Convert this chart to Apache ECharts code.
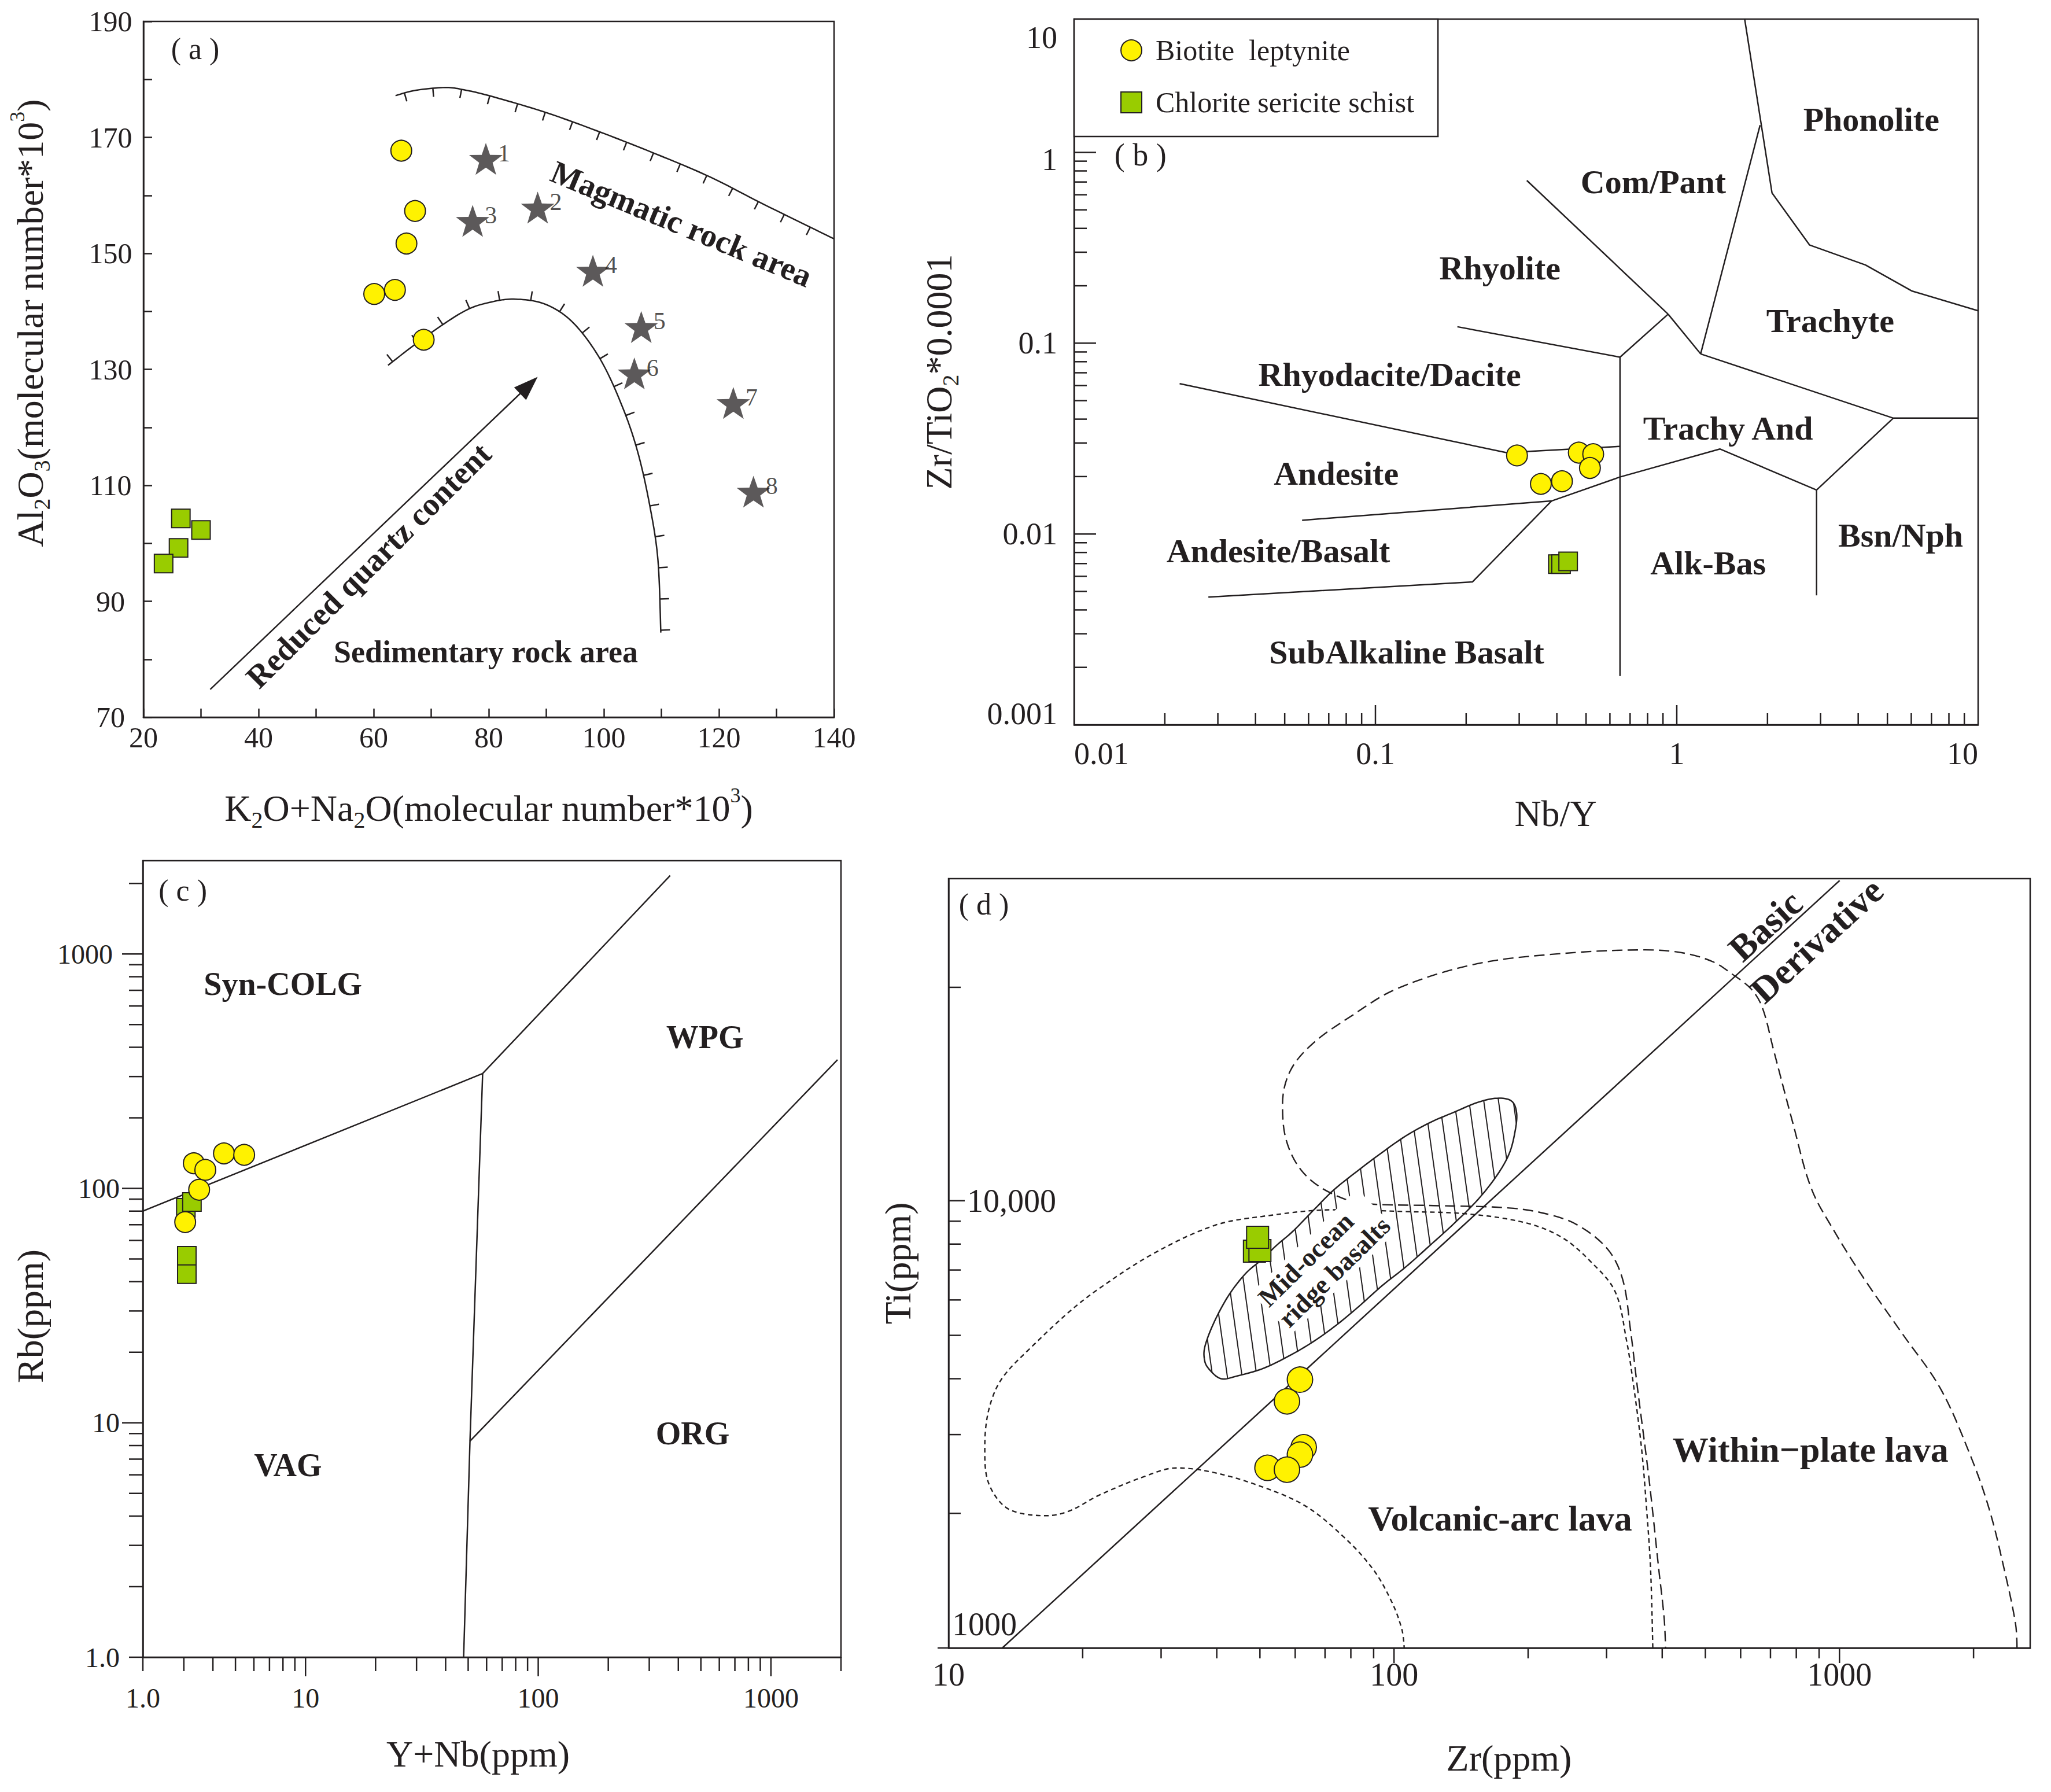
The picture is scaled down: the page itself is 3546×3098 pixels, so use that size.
<!DOCTYPE html>
<html><head><meta charset="utf-8">
<script src="https://cdn.jsdelivr.net/npm/echarts@6/dist/echarts.min.js"></script>
<style>html,body{margin:0;padding:0;background:#fff}#c{width:3546px;height:3098px}</style>
</head><body><div id="c"></div>
<script>
// ====================== DATA ======================
// ---- (a) Al2O3 vs K2O+Na2O ----
const aCircles = [[64.8,167.7],[67.2,157.3],[65.7,151.7],[60.1,143.0],[63.7,143.7],[68.7,135.1]];
const aSquares = [[26.5,104.3],[30.0,102.3],[26.1,99.2],[23.5,96.5]];
const aStars = [[79.5,166.3],[88.5,157.9],[77.2,155.6],[98.1,147.0],[106.5,137.3],[105.3,129.3],[122.5,124.2],[126.0,108.9]];
const aStarNames = ['1','2','3','4','5','6','7','8'];
const aMagmaticCurve = [[63.8,177.2],[67.2,178.1],[72.4,178.6],[75.7,178.2],[80.4,177.1],[89.9,174.3],[99.4,170.9],[108.9,167.2],[118.4,163.2],[127.9,158.4],[140,152.5]];
const aSedimentaryCurve = [[62.5,130.7],[68.7,135.4],[75.7,140.0],[80.4,141.6],[84.7,142.1],[89.9,141.2],[94.7,138.0],[99.4,131.7],[103.2,123.6],[105.9,115.7],[108.0,106.4],[109.4,97.1],[109.9,84.6]];
const aArrow = [[31.6,74.8],[88.5,128.7]];

// ---- (b) Zr/TiO2 vs Nb/Y ----
const bCircles = [[0.295,0.0258],[0.473,0.0267],[0.528,0.0262],[0.515,0.0222],[0.354,0.0183],[0.416,0.0189]];
const bSquares = [[0.403,0.00695],[0.413,0.00695],[0.436,0.00719]];
const bBoundaries = [
  [[0.318,0.713],[0.936,0.142]],
  [[0.936,0.142],[0.648,0.0845]],
  [[0.187,0.122],[0.648,0.0845]],
  [[0.648,0.0845],[0.648,0.0018]],
  [[0.936,0.142],[1.20,0.0879]],
  [[1.20,0.0879],[1.89,1.39]],
  [[1.68,5.0],[2.07,0.614],[2.76,0.327],[4.23,0.257],[6.02,0.188],[10,0.148]],
  [[1.20,0.0879],[5.23,0.0405],[10,0.0405]],
  [[5.23,0.0405],[2.91,0.0170],[2.91,0.00477]],
  [[2.91,0.0170],[1.39,0.0279],[0.648,0.0199],[0.384,0.0149],[0.0571,0.0118]],
  [[0.384,0.0149],[0.210,0.00561],[0.0279,0.00467]],
  [[0.0224,0.0614],[0.272,0.0267],[0.648,0.0288]]
];
const bXMajor = [0.1,1];
const bXMinor = [0.02,0.03,0.04,0.05,0.06,0.07,0.08,0.09,0.2,0.3,0.4,0.5,0.6,0.7,0.8,0.9,2,3,4,5,6,7,8,9];
const bYMajor = [0.01,0.1,1];
const bYMinor = [0.002,0.003,0.004,0.005,0.006,0.007,0.008,0.009,0.02,0.03,0.04,0.05,0.06,0.07,0.08,0.09,0.2,0.3,0.4,0.5,0.6,0.7,0.8,0.9,2,3,4];
const bXLabelVals = [0.01,0.1,1,10];
const bXLabelText = ['0.01','0.1','1','10'];
const bYLabelVals = [0.001,0.01,0.1,1,4];
const bYLabelText = ['0.001','0.01','0.1','1','10'];

// ---- (c) Rb vs Y+Nb ----
const cCircles = [[3.31,128],[3.71,120],[4.46,141],[5.45,139],[3.49,98.7],[3.04,71.8]];
const cSquares = [[3.06,82.7],[3.25,87.5],[3.09,51.6],[3.09,43.1]];
const cBoundaries = [
  [[2,80],[57.7,309]],
  [[57.7,309],[369,2162]],
  [[57.7,309],[50.9,8.35],[47.8,1]],
  [[50.9,8.35],[1932,354]]
];
const cXMajor = [10,100,1000];
const cXMinor = [2,3,4,5,6,7,8,9,20,30,40,50,60,70,80,90,200,300,400,500,600,700,800,900,2000];
const cYMajor = [10,100,1000];
const cYMinor = [1,2,3,4,5,6,7,8,9,20,30,40,50,60,70,80,90,200,300,400,500,600,700,800,900,2000];
const cXLabelVals = [2,10,100,1000];
const cXLabelText = ['1.0','10','100','1000'];
const cYLabelVals = [1,10,100,1000];
const cYLabelText = ['1.0','10','100','1000'];

// ---- (d) Ti vs Zr ----
const dCircles = [[61.5,3981],[57.5,3560],[62.7,2810],[61.5,2706],[52.0,2528],[57.5,2504]];
const dSquares = [[48.6,7713],[50.0,7737],[49.4,8285]];
const dBasicLine = [[13.2,1000],[1001,52000]];
const dWithinPlate = [[2504,1000],[2485,1132],[2344,1498],[2168,2046],[1964,2706],[1683,3812],[1384,5043],[1138,6673],[973,8557],[865,10640],[785,14980],[711,21770],[671,27060],[634,29720],[574,32130],[521,34190],[446,35810],[366,36380],[220.5,35480],[149,33650],[101,29720],[80,25840],[65.7,22460],[58.5,19520],[56.2,16450],[57.3,13650],[62,11680],[71.1,10480],[86.4,9845],[122.7,9754],[181.4,9634],[220.5,9340],[257.8,8830],[301.5,7798],[326,6673],[339,5203],[352,3812],[373.6,2390],[393,1498],[404,1168],[407,1000]];
const dVolcanicArc = [[381,1000],[376.7,1498],[369,2046],[359.5,2792],[345.6,3812],[332.4,4889],[313.4,6271],[276.6,7304],[238.5,8271],[198.5,8913],[146.9,9340],[106.6,9456],[73.3,9544],[50.6,9224],[39.5,8803],[28.9,7628],[21.8,6368],[18.7,5657],[15.3,4694],[13.3,4056],[12.5,3593],[12.1,3065],[12.06,2757],[12.15,2442],[12.8,2170],[13.9,2026],[16.6,1976],[18.7,2026],[21.8,2197],[27.8,2427],[32.5,2527],[39.5,2466],[50.0,2302],[63.2,2078],[76.8,1778],[89.8,1498],[99.0,1263],[104.2,1098],[105.4,1000]];
const dMorb = [[37.5,4443],[37.7,4757],[39.5,5363],[42.5,6134],[46.4,6870],[50.6,7400],[54.5,7950],[59.4,8560],[66.4,9590],[73.3,10580],[83.0,11680],[93.9,12810],[106.4,13970],[120.5,14960],[136.5,15780],[154.3,16600],[170.3,16950],[183.5,16710],[188.5,15690],[186.8,14220],[181.3,12730],[170.3,11400],[154.3,10060],[136.5,8900],[120.5,7950],[106.4,7120],[93.9,6450],[83.0,5780],[73.3,5220],[64.8,4790],[57.2,4460],[50.6,4210],[44.6,4060],[40.9,4000],[38.3,4220]];
const dXMajor = [100,1000];
const dXMinor = [20,30,40,50,60,70,80,90,200,300,400,500,600,700,800,900,2000];
const dYMajor = [10000];
const dYMinor = [2000,3000,4000,5000,6000,7000,8000,9000,30000];
const dYOuter = [1000];
const dXLabelVals = [10,100,1000];
const dXLabelText = ['10','100','1000'];
const dYLabelVals = [10000,1000];
const dYLabelText = ['10,000','1000'];

// ====================== STYLE / HELPERS ======================
const INK = '#231f20';
const SERIF = '"Liberation Serif","Times New Roman",serif';
const YEL = '#fff200';
const GRN = '#99cc00';
const NAME1 = 'Biotite  leptynite';
const NAME2 = 'Chlorite sericite schist';
const STAR = 'path://M0,-50 L11.76,-16.18 L47.55,-15.45 L19.02,6.18 L29.39,40.45 L0,20 L-29.39,40.45 L-19.02,6.18 L-47.55,-15.45 L-11.76,-16.18 Z';

function catmull(pts, closed, seg){
  const out=[]; const n=pts.length;
  const g=i=> closed ? pts[(i+n)%n] : pts[Math.max(0,Math.min(n-1,i))];
  const last = closed ? n : n-1;
  for(let i=0;i<last;i++){
    const p0=g(i-1),p1=g(i),p2=g(i+1),p3=g(i+2);
    for(let t=0;t<seg;t++){
      const s=t/seg,s2=s*s,s3=s2*s;
      const f=k=>0.5*((2*p1[k])+(-p0[k]+p2[k])*s+(2*p0[k]-5*p1[k]+4*p2[k]-p3[k])*s2+(-p0[k]+3*p1[k]-3*p2[k]+p3[k])*s3);
      out.push([f(0),f(1)]);
    }
  }
  if(!closed) out.push(pts[n-1]);
  return out;
}

function tickedCurve(ax, curve, side, spacing, len, offset){
  return {type:'custom', xAxisIndex:ax, yAxisIndex:ax, silent:true, clip:false, z:3, data:[curve[0]],
    renderItem:(params, api)=>{
      const pts = catmull(curve.map(p=>api.coord(p)), false, 12);
      const ch=[{type:'polyline', shape:{points:pts}, style:{stroke:INK, lineWidth:2.5, fill:null}}];
      let acc=0, next=offset;
      for(let i=1;i<pts.length;i++){
        const a=pts[i-1], b=pts[i]; const dx=b[0]-a[0], dy=b[1]-a[1]; const L=Math.hypot(dx,dy);
        if(L===0) continue;
        while(next<=acc+L){
          const t=(next-acc)/L; const x=a[0]+dx*t, y=a[1]+dy*t;
          const nx=side*(-dy/L), ny=side*(dx/L);
          ch.push({type:'line', shape:{x1:x,y1:y,x2:x+nx*len,y2:y+ny*len}, style:{stroke:INK,lineWidth:2.5}});
          next+=spacing;
        }
        acc+=L;
      }
      return {type:'group', children:ch};
    }};
}

function arrowSeries(ax, seg){
  return {type:'custom', xAxisIndex:ax, yAxisIndex:ax, silent:true, clip:false, z:3, data:[seg[0]],
    renderItem:(params, api)=>{
      const p0=api.coord(seg[0]), p1=api.coord(seg[1]);
      const dx=p1[0]-p0[0], dy=p1[1]-p0[1], L=Math.hypot(dx,dy), ux=dx/L, uy=dy/L;
      const hl=42, hw=15;
      const bx=p1[0]-ux*hl, by=p1[1]-uy*hl;
      return {type:'group', children:[
        {type:'line', shape:{x1:p0[0],y1:p0[1],x2:bx+ux*4,y2:by+uy*4}, style:{stroke:INK,lineWidth:2.5}},
        {type:'polygon', shape:{points:[[p1[0],p1[1]],[bx-uy*hw,by+ux*hw],[bx+uy*hw,by-ux*hw]]}, style:{fill:INK}}
      ]};
    }};
}

function decorSeries(ax, spec){
  return {type:'custom', xAxisIndex:ax, yAxisIndex:ax, silent:true, clip:false, z:4, data:[[spec.x0, spec.y0]],
    renderItem:(params, api)=>{
      const ch=[];
      const seg=(a,b)=>ch.push({type:'line', shape:{x1:a[0],y1:a[1],x2:b[0],y2:b[1]}, style:{stroke:INK,lineWidth:2.5}});
      spec.xTicks.forEach(t=>{ const p=api.coord([t.v,spec.y0]); seg(p,[p[0],p[1]-t.dir*t.len]); });
      spec.yTicks.forEach(t=>{ const p=api.coord([spec.x0,t.v]); seg(p,[p[0]+t.dir*t.len,p[1]]); });
      spec.labels.forEach(l=>{ const p=api.coord(l.at);
        ch.push({type:'text', x:p[0]+(l.dx||0), y:p[1]+(l.dy||0), style:{text:l.text, fill:INK, font:spec.font, align:l.align||'center', verticalAlign:'middle'}}); });
      return {type:'group', children:ch};
    }};
}

function textSeries(ax, items){
  return {type:'custom', xAxisIndex:ax, yAxisIndex:ax, silent:true, clip:false, z:7, data:[items[0].at],
    renderItem:(params, api)=>({type:'group', children: items.map(it=>{
      const p=api.coord(it.at);
      const st={text:it.text, fill:INK, font:it.font, align:it.align||'center', verticalAlign:'middle'};
      if(it.bg){ st.backgroundColor=it.bg; st.padding=it.pad||[2,4]; }
      if(it.lh) st.lineHeight=it.lh;
      return {type:'text', x:p[0], y:p[1], rotation:(it.rot||0)*Math.PI/180, style:st};
    })})};
}

function lineSer(ax, pts, opt){
  opt=opt||{};
  return {type:'line', xAxisIndex:ax, yAxisIndex:ax, data:pts, symbol:'none', showSymbol:false, silent:true, z:2,
    smooth: opt.smooth||false, emphasis:{disabled:true},
    lineStyle:{color:INK, width:opt.width||2.5, type:opt.type||'solid'}};
}

function scat(ax, name, data, symbol, size, color, extra){
  return Object.assign({type:'scatter', name, xAxisIndex:ax, yAxisIndex:ax, data, symbol, symbolSize:size, z:5, silent:true,
    emphasis:{disabled:true}, itemStyle:{color, borderColor:INK, borderWidth:2, opacity:1}}, extra||{});
}

const RICH = {
  sub:{fontFamily:SERIF, fontSize:40, lineHeight:36, verticalAlign:'bottom', color:INK},
  sup:{fontFamily:SERIF, fontSize:36, lineHeight:36, verticalAlign:'top', color:INK}
};
function nameStyle(pad){ return {fontFamily:SERIF, fontSize:64, color:INK, lineHeight:80, padding:pad||0, rich:RICH}; }
const AXLINE = {show:true, onZero:false, lineStyle:{color:INK, width:2.5}};
const NOTICK = {show:false}, NOLABEL = {show:false}, NOSPLIT = {show:false};
function logAxis(grid, min, max, name, gap, pad){
  return {gridIndex:grid, type:'log', logBase:10, min, max, axisLine:AXLINE, axisTick:NOTICK, axisLabel:NOLABEL,
    splitLine:NOSPLIT, minorTick:{show:false}, name, nameLocation:'middle', nameGap:gap, nameTextStyle:nameStyle(pad)};
}

const B = (s)=>'bold '+s+'px '+SERIF;
const R = (s)=>s+'px '+SERIF;

// ---- tick / label specs ----
const bSpec = {x0:0.01, y0:0.001, font:R(54),
  xTicks: bXMinor.map(v=>({v,len:20,dir:1})).concat(bXMajor.map(v=>({v,len:34,dir:1}))),
  yTicks: bYMinor.map(v=>({v,len:22,dir:1})).concat(bYMajor.map(v=>({v,len:38,dir:1}))),
  labels: bXLabelVals.map((v,i)=>({at:[v,0.001], text:bXLabelText[i], dy:50, align: i===0?'left':(i===bXLabelVals.length-1?'right':'center')}))
    .concat(bYLabelVals.map((v,i)=>({at:[0.01,v], text:bYLabelText[i], dx:-29, dy:(i===0?-19:(bYLabelText[i]==='1'?12:0)), align:'right'})))
};
const cSpec = {x0:2, y0:1, font:R(48),
  xTicks: cXMinor.map(v=>({v,len:24,dir:-1})).concat(cXMajor.map(v=>({v,len:33,dir:-1}))),
  yTicks: cYMinor.map(v=>({v,len:24,dir:-1})).concat(cYMajor.map(v=>({v,len:36,dir:-1}))),
  labels: cXLabelVals.map((v,i)=>({at:[v,1], text:cXLabelText[i], dy:70}))
    .concat(cYLabelVals.map((v,i)=>({at:[2,v], text:cYLabelText[i], dx:(cYLabelText[i]==='1000'?-52:-40), align:'right'})))
};
const dSpec = {x0:10, y0:1000, font:R(56),
  xTicks: dXMinor.map(v=>({v,len:18,dir:-1})).concat(dXMajor.map(v=>({v,len:26,dir:-1}))),
  yTicks: dYMinor.map(v=>({v,len:21,dir:1})).concat(dYMajor.map(v=>({v,len:28,dir:1}))).concat(dYOuter.map(v=>({v,len:19,dir:-1}))),
  labels: dXLabelVals.map((v,i)=>({at:[v,1000], text:dXLabelText[i], dy:46}))
    .concat(dYLabelVals.map((v,i)=>({at:[10,v], text:dYLabelText[i], dx:(i===0?32:6), dy:(i===0?0:-41), align:'left'})))
};

// ---- annotations (field names) ----
const aNotes = [
  {at:[29.0,185.3], text:'( a )', font:R(52)},
  {at:[113.5,155.1], text:'Magmatic rock area', font:B(56), rot:-22.6},
  {at:[79.5,81.3], text:'Sedimentary rock area', font:B(54)},
  {at:[59.1,96.2], text:'Reduced quartz content', font:B(56), rot:45}
];
const bNotes = [
  {at:[0.0166,0.968], text:'( b )', font:R(54)},
  {at:[4.42,1.49], text:'Phonolite', font:B(58)},
  {at:[0.836,0.703], text:'Com/Pant', font:B(58)},
  {at:[0.259,0.247], text:'Rhyolite', font:B(58)},
  {at:[3.23,0.1315], text:'Trachyte', font:B(58)},
  {at:[0.1115,0.0685], text:'Rhyodacite/Dacite', font:B(58)},
  {at:[1.48,0.0358], text:'Trachy And', font:B(58)},
  {at:[0.0741,0.0208], text:'Andesite', font:B(58)},
  {at:[5.53,0.00986], text:'Bsn/Nph', font:B(58)},
  {at:[0.0476,0.00816], text:'Andesite/Basalt', font:B(58)},
  {at:[1.27,0.00703], text:'Alk-Bas', font:B(58)},
  {at:[0.127,0.00240], text:'SubAlkaline Basalt', font:B(58)}
];
const cNotes = [
  {at:[2.97,1866], text:'( c )', font:R(52)},
  {at:[8.0,744], text:'Syn-COLG', font:B(56)},
  {at:[520,441], text:'WPG', font:B(56)},
  {at:[8.41,6.58], text:'VAG', font:B(56)},
  {at:[461,8.99], text:'ORG', font:B(56)}
];
const dNotes = [
  {at:[12.0,46000], text:'( d )', font:R(52)},
  {at:[861,2780], text:'Within\u2212plate lava', font:B(62)},
  {at:[173,1946], text:'Volcanic-arc lava', font:B(62)},
  {at:[682,41200], text:'Basic', font:B(64), rot:42.5},
  {at:[889,38200], text:'Derivative', font:B(64), rot:42.5},
  {at:[53.0,5590], text:'Mid-ocean\nridge basalts', font:B(46), rot:44.5, align:'left', bg:'#ffffff', pad:[0,4], lh:50}
];

// ---- MORB hatched field ----
const morbSeries = {type:'custom', xAxisIndex:3, yAxisIndex:3, silent:true, clip:false, z:3, data:[dMorb[0]],
  renderItem:(params, api)=>{
    const pts = catmull(dMorb.map(p=>api.coord(p)), true, 8);
    const ys=pts.map(p=>p[1]); const ymin=Math.min.apply(null,ys);
    const k=0.14; const us=pts.map(p=>p[0]-k*(p[1]-ymin));
    const umin=Math.min.apply(null,us), umax=Math.max.apply(null,us);
    const ch=[];
    for(let u=umin+10; u<umax; u+=25.5){
      const hits=[];
      for(let i=0;i<pts.length;i++){
        const j=(i+1)%pts.length, ua=us[i], ub=us[j];
        if((ua-u)*(ub-u)<0){ const t=(u-ua)/(ub-ua); hits.push(pts[i][1]+t*(pts[j][1]-pts[i][1])); }
      }
      hits.sort((a,b)=>a-b);
      for(let h=0;h+1<hits.length;h+=2){
        const ya=hits[h], yb=hits[h+1];
        ch.push({type:'line', shape:{x1:u+k*(ya-ymin),y1:ya,x2:u+k*(yb-ymin),y2:yb}, style:{stroke:INK,lineWidth:2}});
      }
    }
    ch.push({type:'polygon', shape:{points:pts}, style:{fill:'none', stroke:INK, lineWidth:2.5}});
    return {type:'group', children:ch};
  }};

// ====================== OPTION ======================
const series = [];
// (a)
series.push(tickedCurve(0, aMagmaticCurve, 1, 50, 15, 16));
series.push(tickedCurve(0, aSedimentaryCurve, -1, 54, 16, 10));
series.push(arrowSeries(0, aArrow));
series.push(scat(0, 'Reference', aStars, STAR, 58, '#333031', {symbolKeepAspect:true, itemStyle:{color:'#333031', borderWidth:0},
  label:{show:true, position:'right', distance:0, offset:[-8,-10], formatter:p=>aStarNames[p.dataIndex], fontFamily:SERIF, fontSize:42, color:INK}}));
series.push(scat(0, NAME2, aSquares, 'rect', 32, GRN));
series.push(scat(0, NAME1, aCircles, 'circle', 36, YEL));
series.push(textSeries(0, aNotes));
// (b)
bBoundaries.forEach(s=>series.push(lineSer(1, s)));
series.push(decorSeries(1, bSpec));
series.push(scat(1, NAME2, bSquares, 'rect', 32, GRN));
series.push(scat(1, NAME1, bCircles, 'circle', 36, YEL));
series.push(textSeries(1, bNotes));
// (c)
cBoundaries.forEach(s=>series.push(lineSer(2, s)));
series.push(decorSeries(2, cSpec));
series.push(scat(2, NAME2, cSquares, 'rect', 32, GRN));
series.push(scat(2, NAME1, cCircles, 'circle', 36, YEL));
series.push(textSeries(2, cNotes));
// (d)
series.push(lineSer(3, dBasicLine));
series.push(lineSer(3, dWithinPlate, {smooth:0.35, type:[18,9], width:2.4}));
series.push(lineSer(3, dVolcanicArc, {smooth:0.35, type:[8,6], width:2.4}));
series.push(morbSeries);
series.push(decorSeries(3, dSpec));
series.push(scat(3, NAME2, dSquares, 'rect', 38, GRN));
series.push(scat(3, NAME1, dCircles, 'circle', 44, YEL));
series.push(textSeries(3, dNotes));

const gridBase = {show:true, borderColor:INK, borderWidth:2.5, backgroundColor:'rgba(0,0,0,0)', containLabel:false};
const option = {
  animation:false,
  backgroundColor:'#ffffff',
  textStyle:{fontFamily:SERIF, color:INK},
  legend:{
    data:[NAME1, NAME2], orient:'vertical', left:1857, top:33, selectedMode:false,
    padding:[29,41,34,80], itemGap:40, itemWidth:36, itemHeight:36,
    borderColor:INK, borderWidth:2.5, backgroundColor:'#ffffff', z:10,
    textStyle:{fontFamily:SERIF, fontSize:50, lineHeight:46, color:INK, padding:[0,0,0,19]}
  },
  grid:[
    Object.assign({left:248, top:37, width:1194, height:1203}, gridBase),
    Object.assign({left:1857, top:33, width:1563, height:1220}, gridBase),
    Object.assign({left:247, top:1488, width:1207, height:1377}, gridBase),
    Object.assign({left:1640, top:1519, width:1870, height:1330}, gridBase)
  ],
  xAxis:[
    {gridIndex:0, type:'value', min:20, max:140, interval:10, axisLine:AXLINE,
      axisTick:{show:true, inside:true, length:15, lineStyle:{color:INK, width:2.5}},
      axisLabel:{color:INK, fontFamily:SERIF, fontSize:50, margin:10, showMinLabel:true, showMaxLabel:true, formatter:v=>(v%20===0?String(v):'')},
      splitLine:NOSPLIT, name:'K{sub|2}O+Na{sub|2}O(molecular number*10{sup|3})', nameLocation:'middle', nameGap:117, nameTextStyle:nameStyle()},
    logAxis(1, 0.01, 10, 'Nb/Y', 113, [0,0,0,102]),
    logAxis(2, 2, 2000, 'Y+Nb(ppm)', 127, [0,48,0,0]),
    logAxis(3, 10, 2680, 'Zr(ppm)', 150, [0,0,0,68])
  ],
  yAxis:[
    {gridIndex:0, type:'value', min:70, max:190, interval:10, axisLine:AXLINE,
      axisTick:{show:true, inside:true, length:15, lineStyle:{color:INK, width:2.5}},
      axisLabel:{color:INK, fontFamily:SERIF, fontSize:50, margin:57, align:'center', showMinLabel:true, showMaxLabel:true, formatter:v=>((v-70)%20===0?String(v):'')},
      splitLine:NOSPLIT, name:'Al{sub|2}O{sub|3}(molecular number*10{sup|3})', nameLocation:'middle', nameGap:156, nameTextStyle:nameStyle([0,0,0,160])},
    logAxis(1, 0.001, 5, 'Zr/TiO{sub|2}*0.0001', 194),
    logAxis(2, 1, 2500, 'Rb(ppm)', 155, [0,198,0,0]),
    logAxis(3, 1000, 52500, 'Ti(ppm)', 48)
  ],
  series
};

const chart = echarts.init(document.getElementById('c'), null, {renderer:'svg', width:3546, height:3098});
chart.setOption(option);
</script>
</body></html>
